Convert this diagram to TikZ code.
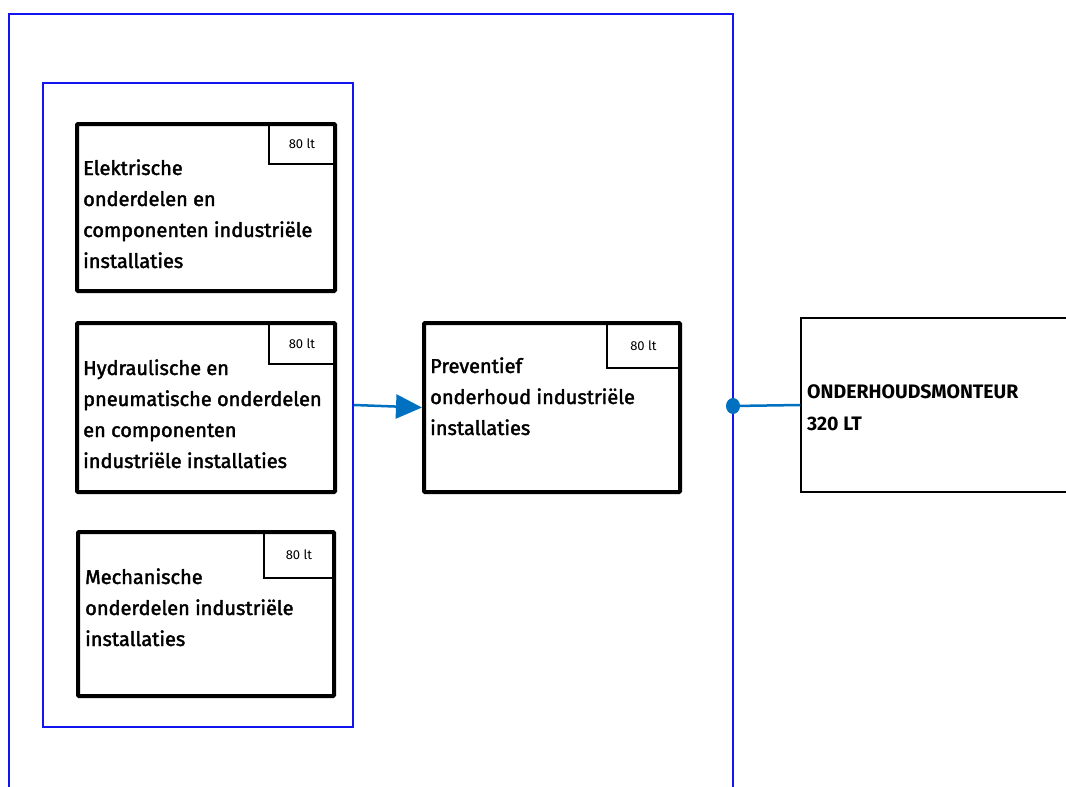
\documentclass[tikz,border=0pt]{standalone}
\usepackage{fontspec}
\setmainfont{Fira Sans}
\newfontfamily\bodyfont{Fira Sans}[FakeBold=2]
\usetikzlibrary{arrows.meta}
\definecolor{frameblue}{RGB}{20,20,240}
\definecolor{linkblue}{RGB}{0,112,192}
\begin{document}
\begin{tikzpicture}[x=1pt,y=-1pt,
  frame/.style={draw=frameblue,line width=2pt},
  unit/.style={draw=black,line width=4pt,rounded corners=1pt,inner sep=0pt},
  tag/.style={draw=black,line width=1.2pt,inner sep=0pt,font=\fontsize{13}{15}\selectfont},
  body/.style={anchor=base west,align=left,inner sep=0pt,font=\bodyfont\fontsize{20}{31}\selectfont},
  link/.style={draw=linkblue,line width=2.5pt}]
\useasboundingbox (0,0) rectangle (1066,787);
% outer frame (open at bottom)
\draw[frame] (9,787) -- (9,14) -- (733,14) -- (733,787);
% inner frame
\node[frame,minimum width=310pt,minimum height=644pt,inner sep=0pt] (inner) at (198,405) {};
% box 1
\node[unit,minimum width=258pt,minimum height=167pt] (b1) at (206,207.5) {};
\node[tag,minimum width=66pt,minimum height=40pt] (t1) at (302,144) {80 lt};
\node[body] (x1) at (83,268) {Elektrische\\onderdelen en\\componenten industriële\\installaties};
% box 2
\node[unit,minimum width=258pt,minimum height=169pt] (b2) at (206,407.5) {};
\node[tag,minimum width=66pt,minimum height=41pt] (t2) at (302,343.5) {80 lt};
\node[body] (x2) at (83,468) {Hydraulische en\\pneumatische onderdelen\\en componenten\\industriële installaties};
% box 3
\node[unit,minimum width=256pt,minimum height=164pt] (b3) at (206,614) {};
\node[tag,minimum width=70pt,minimum height=46pt] (t3) at (299,555) {80 lt};
\node[body] (x3) at (85,646) {Mechanische\\onderdelen industriële\\installaties};
% box 4
\node[unit,minimum width=256pt,minimum height=169pt] (b4) at (552,407.5) {};
\node[tag,minimum width=73pt,minimum height=45pt] (t4) at (643.5,345.5) {80 lt};
\node[body] (x4) at (430,435) {Preventief\\onderhoud industriële\\installaties};
% right box
\node[draw=black,line width=1.5pt,minimum width=280pt,minimum height=174pt,inner sep=0pt] (r) at (941,405) {};
\node[body,font=\bfseries\fontsize{19.5}{32}\selectfont] (xr) at (807,430) {ONDERHOUDSMONTEUR\\320 LT};
% connectors
\draw[link,-{Triangle[length=26pt,width=24pt]}] (inner.east) -- (b4.west);
\coordinate (dot) at (733,406);
\fill[linkblue] (dot) ellipse (7pt and 8pt);
\draw[link] (dot) -- (r.west);
\end{tikzpicture}
\end{document}
